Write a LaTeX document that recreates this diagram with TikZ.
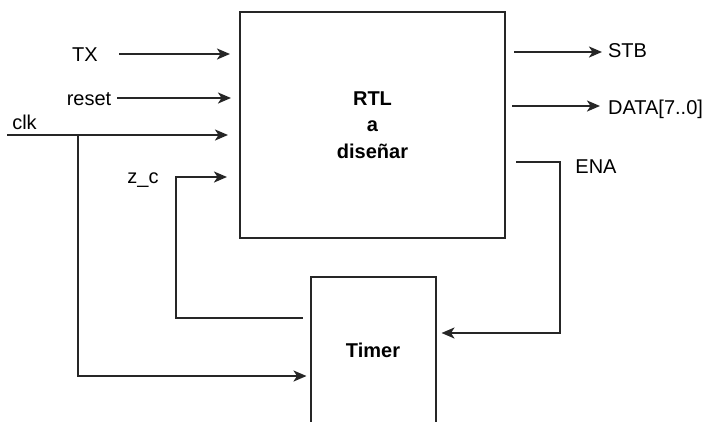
\documentclass[tikz,border=0pt]{standalone}
\usepackage{fontspec}
\setmainfont{Liberation Sans}
\usepackage{tikz}
\usetikzlibrary{positioning,arrows.meta}

\begin{document}
\begin{tikzpicture}[
    x=1pt, y=-1pt,
    block/.style={rectangle, draw=black!85, line width=2pt, align=center,
                  font=\bfseries\fontsize{20}{26.5}\selectfont},
    lbl/.style={anchor=base, inner sep=0pt, font=\fontsize{20}{24}\selectfont},
    wire/.style={line width=2pt, color=black!85},
    arr/.style={-{Stealth[length=13pt, width=11pt, inset=3.5pt]}, wire}
  ]
    \clip (0,0) rectangle (708,421);

    \node[block, minimum width=265pt, minimum height=226pt] (rtl) at (372.5,125) {RTL\\ a\\ diseñar};
    \node[block, minimum width=125pt, minimum height=146pt] (timer) at (373,350) {Timer};

    \node[lbl] (tx)    at (85,61)   {TX};
    \node[lbl] (reset) at (89,105)  {reset};
    \node[lbl] (clk)   at (24.5,129) {clk};
    \node[lbl] (zc)    at (143,183) {z\_c};
    \node[lbl] (stb)   at (627.5,57) {STB};
    \node[lbl] (data)  at (655.5,114) {DATA[7..0]};
    \node[lbl] (ena)   at (596,173) {ENA};

    \coordinate (txin)  at (119,54);
    \coordinate (rstin) at (117,98);
    \coordinate (clkin) at (7,135);
    \coordinate (clkj)  at (78,135);
    \coordinate (clkd)  at (78,376);
    \coordinate (zcd)   at (176,318);
    \coordinate (zcu)   at (176,177);
    \coordinate (stbo)  at (602,52);
    \coordinate (datao) at (600,106);
    \coordinate (ena1)  at (560,162);
    \coordinate (ena2)  at (560,333);

    \draw[arr, shorten >=9pt] (txin) -- (rtl.west |- txin);
    \draw[arr, shorten >=8pt] (rstin) -- (rtl.west |- rstin);
    \draw[arr, shorten >=11pt] (clkin) -- (rtl.west |- clkin);
    \draw[arr, shorten >=3pt] (clkj) -- (clkd) -- (timer.west |- clkd);
    \draw[arr, shorten <=7pt, shorten >=12pt] (timer.west |- zcd) -- (zcd) -- (zcu) -- (rtl.west |- zcu);
    \draw[arr, shorten <=8pt] (rtl.east |- stbo) -- (stbo);
    \draw[arr, shorten <=6pt] (rtl.east |- datao) -- (datao);
    \draw[arr, shorten <=10pt, shorten >=5pt] (rtl.east |- ena1) -- (ena1) -- (ena2) -- (timer.east |- ena2);
  \end{tikzpicture}
\end{document}
